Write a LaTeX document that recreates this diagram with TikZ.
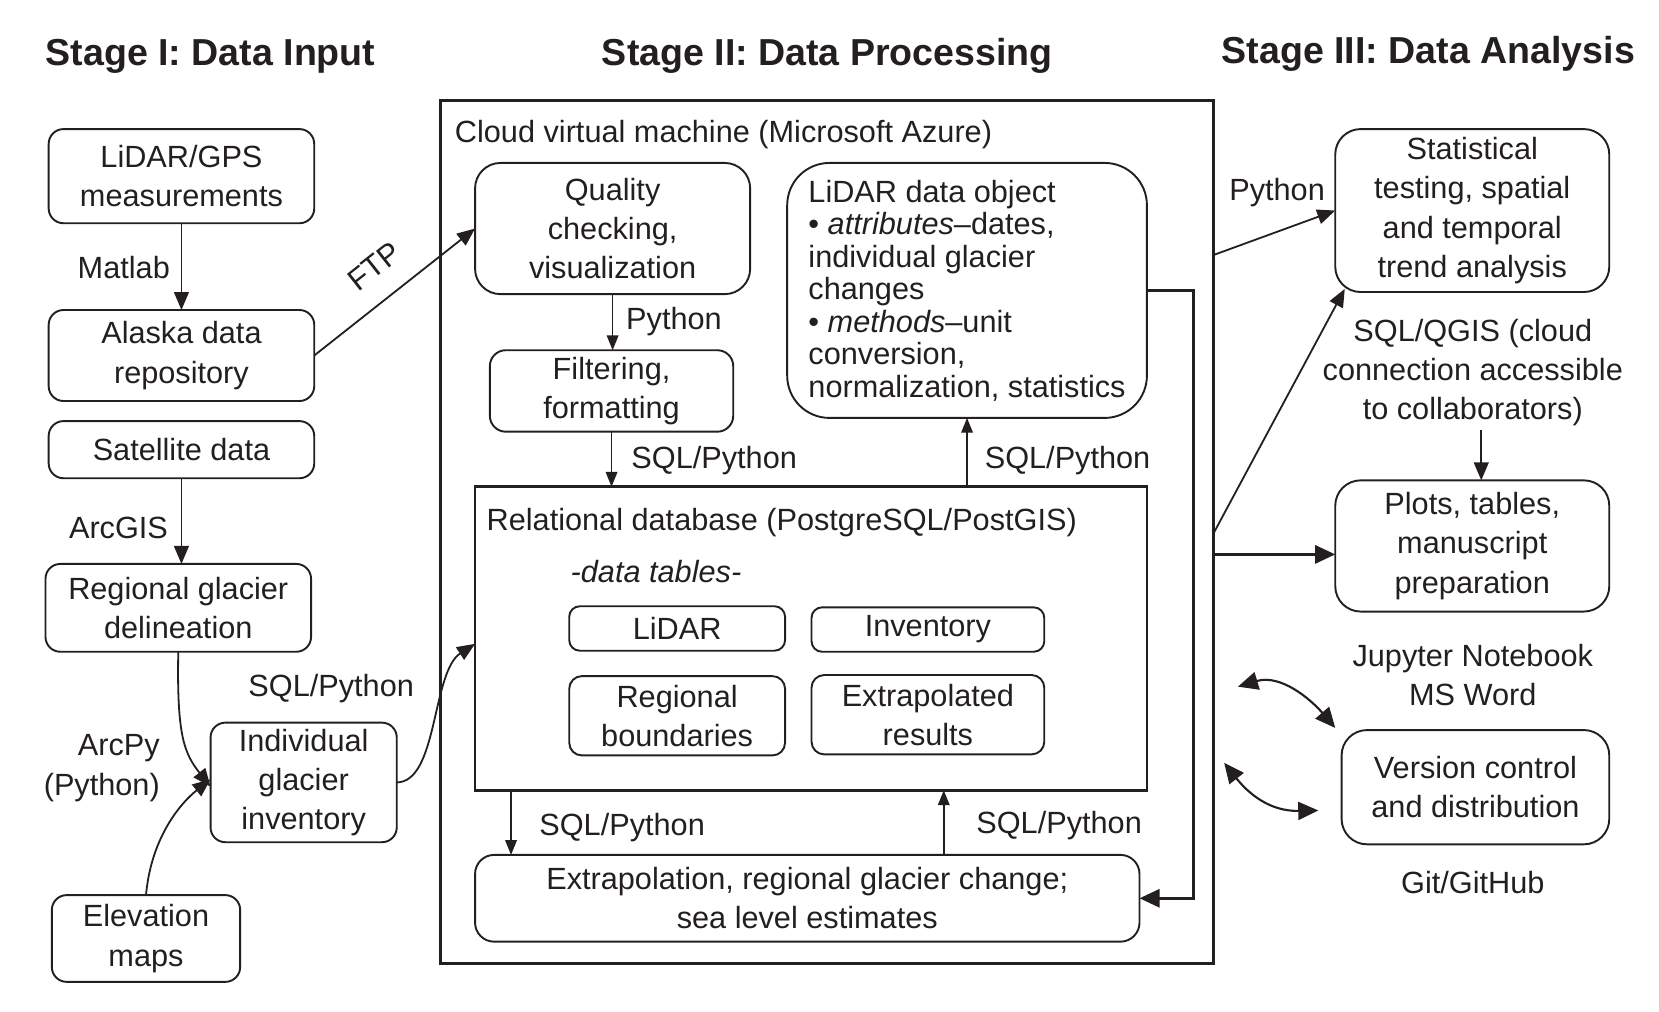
\documentclass[tikz,border=0pt]{standalone}
\usepackage{fontspec}
\setmainfont{Liberation Sans}
\usetikzlibrary{arrows.meta,calc}
\definecolor{ink}{HTML}{231F20}
\tikzset{
  every node/.style={inner sep=0pt, outer sep=0pt, text=ink, font=\fontsize{29}{37}\selectfont},
  box/.style={draw=ink, line width=1.8pt, rounded corners=#1, align=center},
  box/.default=14pt,
  ttl/.style={font=\fontsize{35.5}{40}\selectfont\bfseries},
  lbl/.style={align=center},
  arr/.style={draw=ink, line width=1.7pt, -{Triangle[length=17pt,width=14pt]}},
  sarr/.style={draw=ink, line width=1.4pt, -{Triangle[length=14pt,width=11pt]}},
  tarr/.style={draw=ink, line width=3pt, -{Triangle[length=19pt,width=17pt]}},
  darr/.style={draw=ink, line width=2pt, {Triangle[length=19pt,width=17pt]}-{Triangle[length=19pt,width=17pt]}},
}
\begin{document}
\begin{tikzpicture}[x=1pt,y=-1pt]
\useasboundingbox (0,0) rectangle (1568,956);

% titles
\node[ttl] (t1) at (199,53) {Stage I: Data Input};
\node[ttl] (t2) at (782,53) {Stage II: Data Processing};
\node[ttl] (t3) at (1350,51) {Stage III: Data Analysis};

% Stage I
\node[box, minimum width=251pt, minimum height=89pt] (lidargps) at (171.5,166.5) {LiDAR/GPS\\measurements};
\node[box, minimum width=251pt, minimum height=86pt] (alaska) at (171.5,336) {Alaska data\\repository};
\node[box, minimum width=251pt, minimum height=54pt] (satellite) at (171.5,425) {Satellite data};
\node[box, minimum width=251pt, minimum height=83pt] (regional) at (168.5,574.5) {Regional glacier\\delineation};
\node[box, minimum width=176pt, minimum height=113pt] (individual) at (287,739.5) {Individual\\glacier\\inventory};
\node[box, minimum width=178pt, minimum height=82pt] (elevation) at (138,887) {Elevation\\maps};

\node (matlab) at (117,253) {Matlab};
\node (arcgis) at (112,499) {ArcGIS};
\node[align=right, anchor=east] (arcpy) at (151,726) {ArcPy\\(Python)};
\node (sqlleft) at (313,651) {SQL/Python};

% Stage II
\node[draw=ink, line width=3pt, minimum width=731pt, minimum height=816pt] (cloud) at (781.5,503) {};
\node[anchor=west] (cloudlbl) at (430,127) {Cloud virtual machine (Microsoft Azure)};
\node[box=24pt, minimum width=260pt, minimum height=124pt] (quality) at (579,216) {Quality\\checking,\\visualization};
\node[box=15pt, minimum width=230pt, minimum height=77pt] (filtering) at (578,369.5) {Filtering,\\formatting};
\node[box=40pt, minimum width=340pt, minimum height=241pt, align=left, font=\fontsize{29}{30.7}\selectfont] (lidarobj) at (914,274.5)
  {LiDAR data object\\
   \textbullet\ \textit{attributes}\textendash dates,\\
   individual glacier\\
   changes\\
   \textbullet\ \textit{methods}\textendash unit\\
   conversion,\\
   normalization, statistics};
\node[draw=ink, line width=2.5pt, minimum width=635pt, minimum height=287pt] (db) at (766.5,603.5) {};
\node[anchor=west] (dblbl) at (460,494) {Relational database (PostgreSQL/PostGIS)};
\node[font=\fontsize{29}{37}\selectfont\itshape] (dtl) at (620,540) {-data tables-};
\node[box=10pt, minimum width=204pt, minimum height=42pt] (tlidar) at (640,594) {LiDAR};
\node[box=10pt, minimum width=220pt, minimum height=42pt] (tinv) at (877,595) {\raisebox{-3pt}{Inventory}};
\node[box=12pt, minimum width=204pt, minimum height=75pt] (treg) at (640,676.5) {Regional\\boundaries};
\node[box=12pt, minimum width=220pt, minimum height=75pt] (text) at (877,675.5) {Extrapolated\\results};
\node[box=18pt, minimum width=628pt, minimum height=82pt] (extrap) at (763,849) {Extrapolation, regional glacier change;\\sea level estimates};

\node (py1) at (637,304) {Python};
\node (sp1) at (675,435) {SQL/Python};
\node (sp2) at (1009,435) {SQL/Python};
\node (sp3) at (588,782) {SQL/Python};
\node (sp4) at (1001,780) {SQL/Python};

% Stage III
\node[box=24pt, minimum width=259pt, minimum height=154pt] (stat) at (1391.5,199) {Statistical\\testing, spatial\\and temporal\\trend analysis};
\node[box=24pt, minimum width=259pt, minimum height=124pt] (plots) at (1391.5,516) {Plots, tables,\\manuscript\\preparation};
\node[box=24pt, minimum width=253pt, minimum height=108pt] (version) at (1394.5,744) {Version control\\and distribution};
\node (py2) at (1207,182) {Python};
\node[lbl] (sqlq) at (1392,352) {SQL/QGIS (cloud\\connection accessible\\to collaborators)};
\node[lbl] (jup) at (1392,638) {Jupyter Notebook\\MS Word};
\node (git) at (1392,834) {Git/GitHub};

% Stage I connectors
\draw[arr] (lidargps) -- (alaska);
\draw[arr] (satellite.south) -- (satellite.south |- regional.north);
\draw[arr] (alaska.east) -- (quality.west) node[midway, sloped, above=21pt, inner sep=0pt] (ftp) {FTP};
\coordinate (indA) at ($(individual.west)+(0,4)$);
\coordinate (indB) at ($(individual.west)+(0,-3)$);
\draw[arr] (regional.south) .. controls (167,695) and (174,712) .. (indA);
\draw[arr] (elevation.north) .. controls (143,790) and (172,758) .. (indB);
\draw[arr] (individual.east) .. controls (414,739) and (408,635) .. ($(db.west)+(0,5)$);

% Stage II connectors
\draw[sarr] (quality.south) -- (quality.south |- filtering.north);
\draw[sarr] (filtering.south) -- (filtering.south |- db.north);
\draw[sarr] (lidarobj.south |- db.north) -- (lidarobj.south);
\draw[sarr] ($(db.south west)+(34,0)$) -- ($(extrap.north west)+(34,0)$);
\draw[sarr] ($(extrap.north west)+(443,0)$) -- ($(db.south west)+(443,0)$);
\draw[tarr] (lidarobj.east) -- ++(44,0) |- (extrap.east);

% Stage III connectors
\coordinate (c1) at ($(cloud.north east)+(0,146)$);
\coordinate (c2) at ($(cloud.north east)+(0,409)$);
\coordinate (c3) at ($(cloud.north east)+(0,429)$);
\draw[arr] (c1) -- (stat.west);
\draw[arr] (c2) -- ($(stat.south west)+(9,-3)$);
\draw[tarr] (c3) -- (c3 -| plots.west);
\draw[arr] ([xshift=8pt,yshift=-4pt]sqlq.south) -- ([xshift=8pt]sqlq.south |- plots.north);
\coordinate (d1a) at (1170,649);
\coordinate (d1b) at (1262,688);
\coordinate (d2a) at (1157,721);
\coordinate (d2b) at (1246,766);
\draw[darr] (d1a) .. controls (1210,637) and (1238,660) .. (d1b);
\draw[darr] (d2a) .. controls (1180,750) and (1200,767) .. (d2b);
\end{tikzpicture}
\end{document}
